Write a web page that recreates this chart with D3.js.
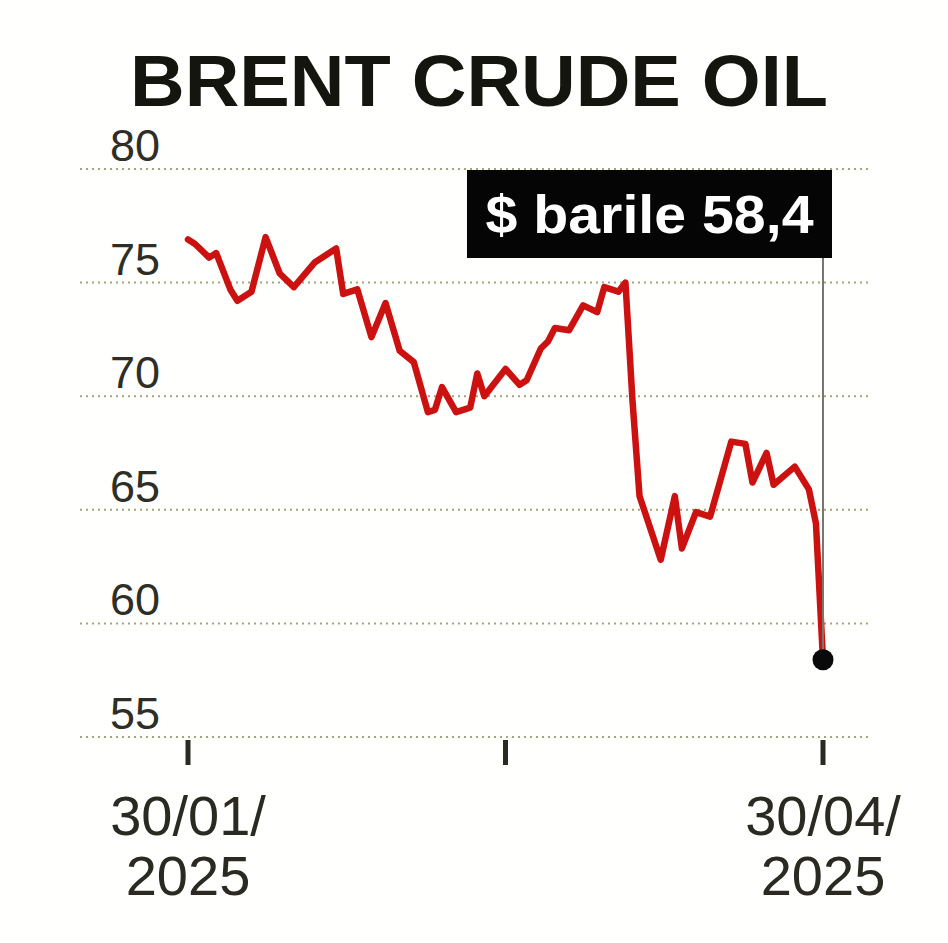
<!DOCTYPE html>
<html>
<head>
<meta charset="utf-8">
<script src="https://cdn.jsdelivr.net/npm/d3@7"></script>
<style>
  html, body { margin: 0; padding: 0; background: #fffffd; }
  svg { display: block; }
</style>
</head>
<body>
<svg id="chart" width="948" height="943"></svg>
<script>
const title = "BRENT CRUDE OIL";
const dates = [
  "2025-01-30","2025-01-31","2025-02-02","2025-02-03","2025-02-05","2025-02-06","2025-02-08",
  "2025-02-10","2025-02-12","2025-02-14","2025-02-17","2025-02-20","2025-02-21","2025-02-23",
  "2025-02-25","2025-02-27","2025-03-01","2025-03-03","2025-03-05","2025-03-06","2025-03-07",
  "2025-03-09","2025-03-11","2025-03-12","2025-03-13","2025-03-16","2025-03-18","2025-03-19",
  "2025-03-21","2025-03-22","2025-03-23","2025-03-25","2025-03-27","2025-03-29","2025-03-30",
  "2025-04-01","2025-04-02","2025-04-03","2025-04-04","2025-04-07","2025-04-09","2025-04-10",
  "2025-04-12","2025-04-14","2025-04-17","2025-04-19","2025-04-20","2025-04-22","2025-04-23",
  "2025-04-26","2025-04-28","2025-04-29","2025-04-30"
];
const prices = [
  76.9, 76.7, 76.1, 76.3, 74.7, 74.2, 74.6,
  77.0, 75.4, 74.8, 75.9, 76.5, 74.5, 74.7,
  72.6, 74.1, 72.0, 71.5, 69.3, 69.4, 70.4,
  69.3, 69.5, 71.0, 70.0, 71.2, 70.5, 70.7,
  72.1, 72.4, 73.0, 72.9, 74.0, 73.7, 74.8,
  74.6, 75.0, 69.8, 65.6, 62.8, 65.6, 63.3,
  64.9, 64.7, 68.0, 67.9, 66.2, 67.5, 66.1,
  66.9, 65.9, 64.4, 58.4
];
const yTicks = [80, 75, 70, 65, 60, 55];
const xTickDates = ["2025-01-30", "2025-03-16", "2025-04-30"];
const xTickLabels = [["30/01/", "2025"], ["", ""], ["30/04/", "2025"]];
const calloutText = "$ barile 58,4";

const parse = d3.timeParse("%Y-%m-%d");
const data = dates.map((d, i) => ({ date: parse(d), value: prices[i] }));

const svg = d3.select("#chart");
const font = "'Liberation Sans', Arial, Helvetica, sans-serif";

const x = d3.scaleTime()
  .domain([parse("2025-01-30"), parse("2025-04-30")])
  .range([188, 823]);
const y = d3.scaleLinear().domain([55, 80]).range([737, 169]);

// background
svg.append("rect").attr("width", 948).attr("height", 943).attr("fill", "#fffffd");

// title
svg.append("text")
  .attr("x", 479).attr("y", 106)
  .attr("text-anchor", "middle")
  .attr("font-family", font).attr("font-weight", "bold")
  .attr("font-size", 73).attr("fill", "#15150f")
  .attr("textLength", 698).attr("lengthAdjust", "spacingAndGlyphs")
  .text(title);

// gridlines
svg.append("g").selectAll("line").data(yTicks).join("line")
  .attr("x1", 80).attr("x2", 868)
  .attr("y1", d => y(d)).attr("y2", d => y(d))
  .attr("stroke", "#a5a57c").attr("stroke-width", 2)
  .attr("stroke-dasharray", "2,4");

// y labels
svg.append("g").selectAll("text").data(yTicks).join("text")
  .attr("x", 160).attr("y", d => y(d) - 8)
  .attr("text-anchor", "end")
  .attr("font-family", font).attr("font-size", 45)
  .attr("fill", "#2e2e26")
  .text(d => d);

// x ticks
const xTicksG = svg.append("g").selectAll("g").data(xTickDates).join("g")
  .attr("transform", d => `translate(${x(parse(d))},0)`);
xTicksG.append("line")
  .attr("y1", 740).attr("y2", 765)
  .attr("stroke", "#2a2a22").attr("stroke-width", 5);
xTicksG.each(function(d, i) {
  const g = d3.select(this);
  const lines = xTickLabels[i];
  g.append("text").attr("y", 835).attr("text-anchor", "middle")
    .attr("font-family", font).attr("font-size", 56).attr("fill", "#2a2a22")
    .text(lines[0]);
  g.append("text").attr("y", 895).attr("text-anchor", "middle")
    .attr("font-family", font).attr("font-size", 56).attr("fill", "#2a2a22")
    .text(lines[1]);
});

// line
const line = d3.line().x(d => x(d.date)).y(d => y(d.value)).curve(d3.curveLinear);
svg.append("path").datum(data)
  .attr("d", line)
  .attr("fill", "none")
  .attr("stroke", "#cc1111")
  .attr("stroke-width", 6.5)
  .attr("stroke-linejoin", "round")
  .attr("stroke-linecap", "round");

// callout
const last = data[data.length - 1];
const lx = x(last.date), ly = y(last.value);
const boxTop = 170, boxBottom = 258, boxLeft = 467, boxRight = 832;
svg.append("line")
  .attr("x1", lx).attr("x2", lx)
  .attr("y1", boxBottom).attr("y2", ly)
  .attr("stroke", "#777770").attr("stroke-width", 2);
svg.append("rect")
  .attr("x", boxLeft).attr("y", boxTop)
  .attr("width", boxRight - boxLeft).attr("height", boxBottom - boxTop)
  .attr("fill", "#050505");
svg.append("text")
  .attr("x", (boxLeft + boxRight) / 2).attr("y", 233)
  .attr("text-anchor", "middle")
  .attr("font-family", font).attr("font-weight", "bold")
  .attr("font-size", 54).attr("fill", "#ffffff")
  .attr("textLength", 328).attr("lengthAdjust", "spacingAndGlyphs")
  .text(calloutText);

svg.append("circle")
  .attr("cx", lx).attr("cy", ly).attr("r", 10.5)
  .attr("fill", "#0a0a0a");
</script>
</body>
</html>
